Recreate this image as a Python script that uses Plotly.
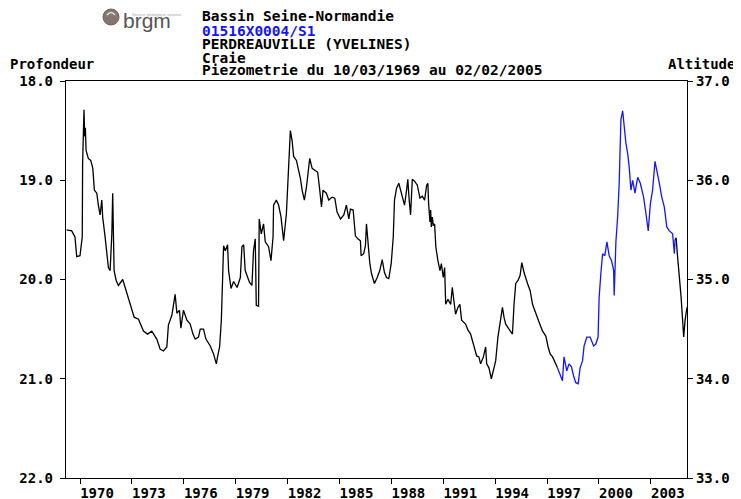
import plotly.graph_objects as go

# ---- data (decimal years, depth in m) ----
years_a = [1969.23, 1969.52, 1969.71, 1969.81, 1970.00, 1970.13, 1970.15, 1970.23, 1970.27, 1970.31,
           1970.35, 1970.48, 1970.62, 1970.74, 1970.83, 1970.97, 1971.06, 1971.16, 1971.26, 1971.31,
           1971.45, 1971.64, 1971.74, 1971.84, 1971.89, 1971.97, 1972.09, 1972.22, 1972.47, 1972.70,
           1972.90, 1973.13, 1973.38, 1973.67, 1973.90, 1974.15, 1974.44, 1974.63, 1974.82, 1975.02,
           1975.11, 1975.31, 1975.50, 1975.60, 1975.75, 1975.83, 1975.98, 1976.18, 1976.37, 1976.53,
           1976.66, 1976.85, 1976.95, 1977.14, 1977.28, 1977.53, 1977.72, 1977.88, 1977.95, 1978.07,
           1978.17, 1978.24, 1978.30, 1978.40, 1978.53, 1978.59, 1978.73, 1978.88, 1979.08, 1979.27,
           1979.36, 1979.46, 1979.55, 1979.80, 1979.94, 1980.03, 1980.13, 1980.19, 1980.32, 1980.36,
           1980.48, 1980.61, 1980.71, 1980.90, 1981.04, 1981.16, 1981.19, 1981.35, 1981.48, 1981.62,
           1981.77, 1981.93, 1982.00, 1982.08, 1982.16, 1982.26, 1982.35, 1982.51, 1982.64, 1982.74,
           1982.84, 1982.97, 1983.09, 1983.28, 1983.42, 1983.61, 1983.74, 1983.86, 1983.96, 1984.05,
           1984.24, 1984.38, 1984.57, 1984.73, 1984.86, 1985.06, 1985.25, 1985.40, 1985.54, 1985.63,
           1985.79, 1985.92, 1986.06, 1986.21, 1986.25, 1986.40, 1986.50, 1986.56, 1986.66, 1986.75,
           1986.85, 1987.02, 1987.18, 1987.33, 1987.47, 1987.60, 1987.72, 1987.85, 1987.99, 1988.11,
           1988.18, 1988.30, 1988.43, 1988.57, 1988.76, 1988.88, 1988.95, 1989.03, 1989.11, 1989.21,
           1989.34, 1989.50, 1989.65, 1989.79, 1989.92, 1990.04, 1990.11, 1990.15, 1990.23, 1990.27,
           1990.31, 1990.37, 1990.42, 1990.50, 1990.57, 1990.69, 1990.81, 1990.89, 1991.00, 1991.08,
           1991.14, 1991.27, 1991.43, 1991.52, 1991.62, 1991.71, 1991.85, 1991.96, 1992.06, 1992.29,
           1992.43, 1992.58, 1992.74, 1992.93, 1993.06, 1993.16, 1993.32, 1993.45, 1993.51, 1993.64,
           1993.78, 1993.90, 1994.03, 1994.16, 1994.28, 1994.42, 1994.51, 1994.61, 1994.80, 1995.00,
           1995.09, 1995.19, 1995.32, 1995.44, 1995.54, 1995.67, 1995.87, 1996.02, 1996.16, 1996.35,
           1996.54, 1996.74, 1996.93, 1997.06, 1997.18, 1997.32, 1997.51, 1997.60]
depth_a = [19.50, 19.51, 19.57, 19.77, 19.76, 19.57, 18.83, 18.29, 18.56, 18.47,
           18.70, 18.78, 18.80, 18.88, 19.10, 19.13, 19.25, 19.35, 19.20, 19.37,
           19.57, 19.88, 19.91, 19.54, 19.13, 19.91, 20.01, 20.06, 20.00, 20.14,
           20.25, 20.38, 20.40, 20.52, 20.55, 20.52, 20.60, 20.70, 20.72, 20.68,
           20.46, 20.36, 20.15, 20.34, 20.31, 20.49, 20.31, 20.41, 20.45, 20.55,
           20.60, 20.58, 20.50, 20.50, 20.60, 20.67, 20.75, 20.85, 20.78, 20.68,
           20.41, 19.94, 19.66, 19.71, 19.65, 19.91, 20.09, 20.02, 20.08, 19.98,
           19.67, 19.65, 19.91, 20.03, 20.06, 19.71, 19.59, 20.26, 20.27, 19.39,
           19.54, 19.44, 19.62, 19.67, 19.81, 19.57, 19.25, 19.20, 19.25, 19.37,
           19.61, 19.34, 19.05, 18.80, 18.50, 18.60, 18.76, 18.80, 18.90, 18.98,
           19.10, 19.20, 19.07, 18.78, 18.88, 18.90, 18.92, 19.10, 19.27, 19.10,
           19.13, 19.20, 19.17, 19.18, 19.32, 19.39, 19.35, 19.25, 19.39, 19.29,
           19.30, 19.56, 19.59, 19.61, 19.76, 19.74, 19.66, 19.44, 19.64, 19.83,
           19.94, 20.04, 19.98, 19.91, 19.80, 19.93, 19.98, 19.99, 19.84, 19.57,
           19.20, 19.08, 19.03, 19.12, 19.25, 19.10, 18.99, 19.20, 19.35, 18.99,
           19.01, 19.05, 19.18, 19.16, 19.20, 19.05, 19.03, 19.23, 19.42, 19.30,
           19.47, 19.37, 19.45, 19.44, 19.67, 19.81, 19.91, 19.84, 19.98, 19.88,
           20.25, 20.20, 20.25, 20.08, 20.21, 20.35, 20.28, 20.25, 20.41, 20.45,
           20.51, 20.55, 20.65, 20.77, 20.78, 20.85, 20.78, 20.68, 20.85, 20.89,
           21.00, 20.91, 20.82, 20.58, 20.45, 20.28, 20.38, 20.45, 20.50, 20.55,
           20.25, 20.04, 20.01, 19.96, 19.83, 19.93, 20.04, 20.11, 20.25, 20.35,
           20.43, 20.52, 20.57, 20.68, 20.75, 20.78, 20.85, 20.89]

years_b = [1997.60, 1997.70, 1997.89, 1997.98, 1998.14, 1998.27, 1998.41, 1998.53, 1998.66, 1998.80,
           1998.91, 1999.05, 1999.14, 1999.30, 1999.49, 1999.69, 1999.82, 1999.95, 2000.01, 2000.11,
           2000.21, 2000.34, 2000.46, 2000.59, 2000.73, 2000.85, 2000.88, 2000.98, 2001.08, 2001.17,
           2001.27, 2001.37, 2001.46, 2001.56, 2001.66, 2001.75, 2001.85, 2001.95, 2002.08, 2002.24,
           2002.39, 2002.58, 2002.72, 2002.85, 2002.97, 2003.10, 2003.24, 2003.35, 2003.49, 2003.63,
           2003.78, 2003.92, 2004.07, 2004.26, 2004.36, 2004.40]
depth_b = [20.89, 20.93, 21.02, 20.78, 20.92, 20.85, 20.88, 20.97, 21.04, 21.05,
           20.89, 20.82, 20.67, 20.58, 20.58, 20.67, 20.65, 20.58, 20.18, 19.94,
           19.74, 19.76, 19.62, 19.76, 19.81, 19.91, 20.16, 19.62, 19.37, 19.03,
           18.39, 18.30, 18.46, 18.63, 18.73, 18.87, 19.10, 19.00, 19.13, 18.97,
           19.03, 19.17, 19.34, 19.51, 19.24, 19.10, 18.81, 18.90, 19.03, 19.17,
           19.27, 19.47, 19.51, 19.54, 19.74, 19.60]

years_c = [2004.40, 2004.46, 2004.55, 2004.65, 2004.75, 2004.90, 2004.98, 2005.09]
depth_c = [19.60, 19.58, 19.78, 19.98, 20.18, 20.58, 20.41, 20.28]

x_ticks = [1970, 1973, 1976, 1979, 1982, 1985, 1988, 1991, 1994, 1997, 2000, 2003]
x_range = [1969.19, 2005.09]
depth_range = [22.0, 18.0]
alt_range = [33.0, 37.0]
depth_ticks = [18.0, 19.0, 20.0, 21.0, 22.0]
alt_ticks = [33.0, 34.0, 35.0, 36.0, 37.0]

header_lines = ["Bassin Seine-Normandie", "01516X0004/S1", "PERDREAUVILLE (YVELINES)", "Craie",
                "Piezometrie du 10/03/1969 au 02/02/2005"]

# ---- layout geometry (window pixels); the page body adds an 8px offset ----
OFF = 8
W, H = 741 - OFF, 499 - OFF
L, R, T, B = 66 - OFF, 687 - OFF, 81 - OFF, 478 - OFF
MONO = "DejaVu Sans Mono"


def px(x):
    return (x - OFF - L) / (R - L)


def py(y):
    return (B - (y - OFF)) / (B - T)


fig = go.Figure()
fig.add_trace(go.Scatter(x=years_a, y=depth_a, mode="lines", line=dict(color="#000000", width=1.3),
                         hoverinfo="skip", showlegend=False))
fig.add_trace(go.Scatter(x=years_b, y=depth_b, mode="lines", line=dict(color="#1414ff", width=1.3),
                         hoverinfo="skip", showlegend=False))
fig.add_trace(go.Scatter(x=years_c, y=depth_c, mode="lines", line=dict(color="#000000", width=1.3),
                         hoverinfo="skip", showlegend=False))
# invisible trace for the right axis
fig.add_trace(go.Scatter(x=[x_range[0]], y=[alt_ticks[0]], yaxis="y2", mode="markers",
                         marker=dict(opacity=0), hoverinfo="skip", showlegend=False))

tickfont = dict(family=MONO, size=14, color="#000000", weight="bold")

fig.update_layout(
    width=W, height=H,
    margin=dict(l=L, r=W - R, t=T, b=H - B, autoexpand=False),
    paper_bgcolor="white", plot_bgcolor="white",
    xaxis=dict(range=x_range, tickvals=x_ticks, ticktext=[str(v) for v in x_ticks],
               ticks="outside", ticklen=5, tickwidth=1, tickcolor="#000",
               showline=True, linecolor="#000", linewidth=1.3, mirror=True,
               showgrid=False, zeroline=False, tickfont=tickfont, ticklabelshift=17,
               ticklabelstandoff=-3, fixedrange=True),
    yaxis=dict(range=depth_range, tickvals=depth_ticks, ticktext=[f"{v:.1f}" for v in depth_ticks],
               ticks="outside", ticklen=5, tickwidth=1, tickcolor="#000",
               showline=True, linecolor="#000", linewidth=1.3,
               showgrid=False, zeroline=False, tickfont=tickfont, ticklabelstandoff=4),
    yaxis2=dict(range=alt_range, tickvals=alt_ticks, ticktext=[f"{v:.1f}" for v in alt_ticks],
                overlaying="y", side="right",
                ticks="outside", ticklen=5, tickwidth=1, tickcolor="#000",
                showline=True, linecolor="#000", linewidth=1.3,
                showgrid=False, zeroline=False, tickfont=tickfont),
)

ann = []
ann.append(dict(text="Profondeur", x=px(8), y=py(64), xanchor="left", yanchor="middle",
                font=dict(family=MONO, size=14, color="#000", weight="bold")))
ann.append(dict(text="Altitude", x=px(737), y=py(64), xanchor="right", yanchor="middle",
                font=dict(family=MONO, size=14, color="#000", weight="bold")))
header_y = [16.5, 31, 44.5, 57.5, 69.5]
for i, (t, yy) in enumerate(zip(header_lines, header_y)):
    ann.append(dict(text=t, x=px(200), y=py(yy), xanchor="left", yanchor="middle",
                    font=dict(family=MONO, size=14.5, color="#1414ff" if i == 1 else "#000",
                              weight="bold")))
# logo
ann.append(dict(text="brgm", x=px(121), y=py(21), xanchor="left", yanchor="middle",
                font=dict(family="Liberation Sans", size=21, color="#555555")))
ann.append(dict(text="Service géologique national", x=px(130), y=py(14), xanchor="left",
                yanchor="middle", font=dict(family="Liberation Sans", size=4, color="#aaaaaa")))
for a in ann:
    a.update(xref="paper", yref="paper", showarrow=False)
fig.update_layout(annotations=ann)

fig.add_shape(type="circle", xref="paper", yref="paper",
              x0=px(103), x1=px(119), y0=py(25), y1=py(9),
              fillcolor="#857670", line=dict(color="#6e625c", width=1))
fig.add_shape(type="path", xref="paper", yref="paper",
              path=f"M {px(107)} {py(15)} Q {px(111)} {py(10)} {px(115)} {py(15)}",
              line=dict(color="#e8e0dc", width=1.5))

fig.write_html("out.html")
